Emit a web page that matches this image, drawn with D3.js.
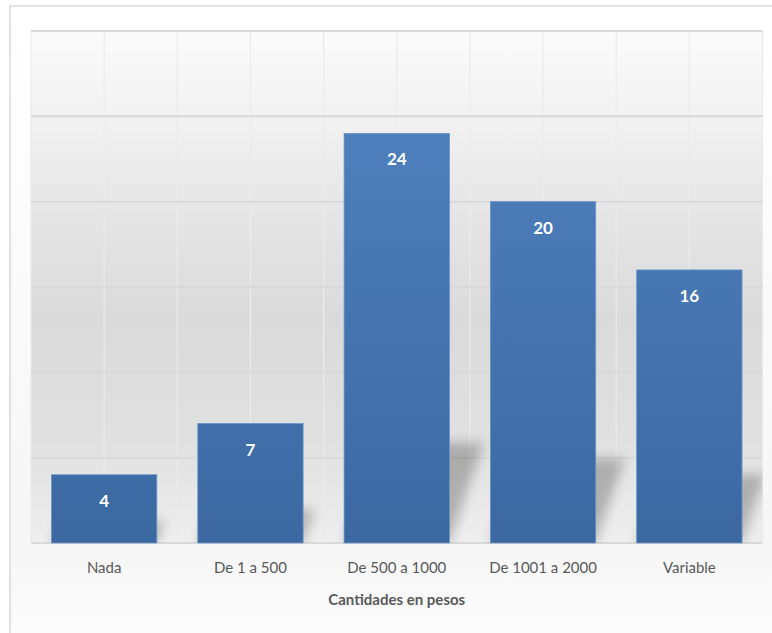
<!DOCTYPE html>
<html>
<head>
<meta charset="utf-8">
<script src="https://cdn.jsdelivr.net/npm/d3@7"></script>
<style>
  html, body { margin: 0; padding: 0; background: #ffffff; }
  svg { display: block; }
</style>
</head>
<body>
<svg id="chart" width="772" height="633"></svg>
<script>
const categories = ["Nada", "De 1 a 500", "De 500 a 1000", "De 1001 a 2000", "Variable"];
const values = [4, 7, 24, 20, 16];
const yTicks = [0, 5, 10, 15, 20, 25, 30];
const axisTitle = "Cantidades en pesos";

const W = 772, H = 633;
const plot = { left: 31, right: 762.5, top: 31, bottom: 543 };
const FONT = "Lato, 'Open Sans', sans-serif";

const svg = d3.select("#chart");
const defs = svg.append("defs");

const bgGrad = defs.append("linearGradient").attr("id", "bgGrad")
  .attr("x1", 0).attr("y1", 0).attr("x2", 0).attr("y2", 1);
bgGrad.append("stop").attr("offset", "0%").attr("stop-color", "#ffffff");
bgGrad.append("stop").attr("offset", "85%").attr("stop-color", "#f6f6f6");
bgGrad.append("stop").attr("offset", "100%").attr("stop-color", "#fcfcfc");

const plotGrad = defs.append("linearGradient").attr("id", "plotGrad")
  .attr("x1", 0).attr("y1", 0).attr("x2", 0).attr("y2", 1);
plotGrad.append("stop").attr("offset", "0%").attr("stop-color", "#fbfbfb");
plotGrad.append("stop").attr("offset", "16%").attr("stop-color", "#f2f2f2");
plotGrad.append("stop").attr("offset", "33%").attr("stop-color", "#e7e7e7");
plotGrad.append("stop").attr("offset", "56%").attr("stop-color", "#dadada");
plotGrad.append("stop").attr("offset", "80%").attr("stop-color", "#e0e0e0");
plotGrad.append("stop").attr("offset", "100%").attr("stop-color", "#eeeeee");

const barGrad = defs.append("linearGradient").attr("id", "barGrad")
  .attr("gradientUnits", "userSpaceOnUse")
  .attr("x1", 0).attr("y1", plot.top + 90).attr("x2", 0).attr("y2", plot.bottom);
barGrad.append("stop").attr("offset", "0%").attr("stop-color", "#4e80bd");
barGrad.append("stop").attr("offset", "100%").attr("stop-color", "#3b68a1");

const blur = defs.append("filter").attr("id", "blur")
  .attr("x", "-50%").attr("y", "-50%").attr("width", "200%").attr("height", "200%");
blur.append("feGaussianBlur").attr("stdDeviation", 6);

defs.append("clipPath").attr("id", "plotClip").append("rect")
  .attr("x", plot.left).attr("y", plot.top)
  .attr("width", plot.right - plot.left).attr("height", plot.bottom - plot.top);

// outer chart frame
svg.append("rect").attr("x", 10).attr("y", 6).attr("width", W).attr("height", H)
  .attr("fill", "url(#bgGrad)").attr("stroke", "#d9d9d9").attr("stroke-width", 1.5);

// plot area
svg.append("rect").attr("x", plot.left).attr("y", plot.top)
  .attr("width", plot.right - plot.left).attr("height", plot.bottom - plot.top)
  .attr("fill", "url(#plotGrad)");

const x = d3.scaleBand().domain(categories).range([plot.left, plot.right])
  .paddingInner(0.28).paddingOuter(0.14);
const y = d3.scaleLinear().domain([0, 30]).range([plot.bottom, plot.top]);

// vertical gridlines at category boundaries and centers
const vLines = [];
categories.forEach(c => {
  const cx = x(c) + x.bandwidth() / 2;
  vLines.push(cx - x.step() / 2, cx);
});
vLines.push(x(categories[categories.length - 1]) + x.bandwidth() / 2 + x.step() / 2);

svg.append("g").selectAll("line").data(vLines).join("line")
  .attr("x1", d => d).attr("x2", d => d)
  .attr("y1", plot.top).attr("y2", plot.bottom)
  .attr("stroke", "#ebebeb").attr("stroke-width", 1.2);

// horizontal gridlines
svg.append("g").selectAll("line").data(yTicks).join("line")
  .attr("x1", plot.left).attr("x2", plot.right)
  .attr("y1", d => y(d)).attr("y2", d => y(d))
  .attr("stroke", "#d9d9d9").attr("stroke-width", 2);

// shadows
const k = 0.34;
svg.append("g").attr("clip-path", "url(#plotClip)")
  .selectAll("path").data(values).join("path")
  .attr("d", (v, i) => {
    const x0 = x(categories[i]), x1 = x0 + x.bandwidth();
    const h = y(0) - y(v);
    const hs = 0.23 * h + 6;
    const b = y(0);
    return `M${x0},${b} L${x1},${b} L${x1 + k * hs},${b - hs} L${x0 + k * hs},${b - hs} Z`;
  })
  .attr("fill", "#000").attr("opacity", 0.24).attr("filter", "url(#blur)");

// bars
svg.append("g").selectAll("rect").data(values).join("rect")
  .attr("x", (v, i) => x(categories[i]))
  .attr("y", v => y(v))
  .attr("width", x.bandwidth())
  .attr("height", v => y(0) - y(v))
  .attr("fill", "url(#barGrad)")
  .attr("stroke", "#6b95c8").attr("stroke-width", 0.8);

// value labels
svg.append("g").selectAll("text").data(values).join("text")
  .attr("x", (v, i) => x(categories[i]) + x.bandwidth() / 2)
  .attr("y", v => y(v) + 32)
  .attr("text-anchor", "middle")
  .attr("font-family", FONT).attr("font-weight", "bold").attr("font-size", 17)
  .attr("fill", "#ffffff")
  .text(v => v);

// x axis labels
const xAxis = d3.axisBottom(x).tickSize(0).tickPadding(19);
const gx = svg.append("g").attr("transform", `translate(0,${plot.bottom})`).call(xAxis);
gx.select(".domain").remove();
gx.selectAll("text").attr("font-family", FONT).attr("font-size", 15).attr("fill", "#595959");

// axis title
svg.append("text").attr("x", (plot.left + plot.right) / 2).attr("y", 605)
  .attr("text-anchor", "middle")
  .attr("font-family", FONT).attr("font-weight", "bold").attr("font-size", 15)
  .attr("fill", "#595959").text(axisTitle);
</script>
</body>
</html>
